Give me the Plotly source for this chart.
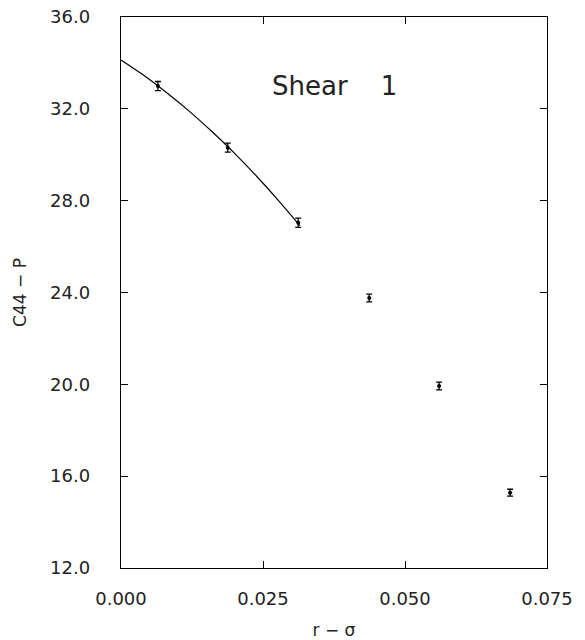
import plotly.graph_objects as go

# Data points (r - sigma, C44 - P) with error bars
x_pts = [0.0065, 0.0188, 0.0312, 0.0437, 0.0560, 0.0685]
y_pts = [32.99, 30.31, 27.04, 23.76, 19.93, 15.28]
y_err = [0.20, 0.20, 0.20, 0.17, 0.17, 0.15]

# Fit curve
x_fit = [0.0, 0.004, 0.008, 0.012, 0.016, 0.020, 0.024, 0.028, 0.0315]
y_fit = [34.13, 33.46, 32.71, 31.90, 31.01, 30.06, 29.03, 27.93, 26.91]

x_ticks = [0.0, 0.025, 0.05, 0.075]
x_tick_text = ["0.000", "0.025", "0.050", "0.075"]
y_ticks = [12, 16, 20, 24, 28, 32, 36]
y_tick_text = ["12.0", "16.0", "20.0", "24.0", "28.0", "32.0", "36.0"]

FONT = "DejaVu Sans"
INK = "#222222"

fig = go.Figure()
fig.add_trace(go.Scatter(
    x=x_fit, y=y_fit, mode="lines",
    line=dict(color="black", width=1.2, shape="spline"),
    showlegend=False, hoverinfo="skip"))
fig.add_trace(go.Scatter(
    x=x_pts, y=y_pts, mode="markers",
    marker=dict(color="black", size=4),
    error_y=dict(type="data", array=y_err, visible=True,
                 color="black", thickness=1.3, width=3),
    showlegend=False))

fig.add_annotation(
    xref="paper", yref="y", x=(270 - 121) / 426, y=33.0,
    xanchor="left", yanchor="middle", showarrow=False,
    text="Shear &nbsp;&nbsp;&nbsp;1",
    font=dict(family=FONT, size=26, color=INK))

fig.update_layout(
    width=585, height=640,
    margin=dict(l=121, r=38, t=17, b=72),
    paper_bgcolor="white", plot_bgcolor="white",
    font=dict(family=FONT, size=18, color=INK),
)
fig.update_xaxes(
    range=[0, 0.075], tickvals=x_ticks, ticktext=x_tick_text,
    showgrid=False, zeroline=False, automargin=False,
    showline=True, linecolor="black", linewidth=1.4, mirror="ticks",
    ticks="inside", ticklen=7, tickcolor="black", tickwidth=1.3,
    ticklabelstandoff=14, ticklabeloverflow="allow",
    tickfont=dict(family=FONT, size=18, color=INK),
    title=dict(text="r − σ", font=dict(family=FONT, size=17, color=INK), standoff=18),
)
fig.update_yaxes(
    range=[12, 36], tickvals=y_ticks, ticktext=y_tick_text,
    showgrid=False, zeroline=False, automargin=False,
    showline=True, linecolor="black", linewidth=1.4, mirror="ticks",
    ticks="inside", ticklen=7, tickcolor="black", tickwidth=1.3,
    ticklabelstandoff=26, ticklabeloverflow="allow",
    tickfont=dict(family=FONT, size=18, color=INK),
    title=dict(text="C44 − P", font=dict(family=FONT, size=17, color=INK), standoff=19),
)

fig.write_html("out.html", config={"displayModeBar": False},
               post_script="document.body.style.margin='0px';")
